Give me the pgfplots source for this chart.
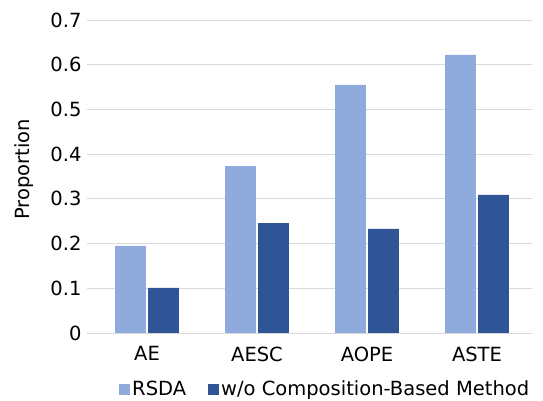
\documentclass[border=0pt]{standalone}
\usepackage{pgfplots}
\pgfplotsset{compat=1.18}
\usepackage{fontspec}
\setmainfont{DejaVu Sans}
\definecolor{rsda}{HTML}{8FAADC}
\definecolor{wo}{HTML}{2F5597}
\definecolor{gridc}{HTML}{D9D9D9}
\begin{document}
\begin{tikzpicture}
\path[use as bounding box] (-92pt,-68pt) rectangle (451pt,333pt);
\begin{axis}[
    at={(0,0)}, anchor=south west,
    scale only axis,
    width=440pt, height=313pt,
    xmin=-0.5, xmax=3.5,
    ymin=0, ymax=0.7,
    ytick={0,0.1,...,0.7},
    yticklabels={0,0.1,0.2,0.3,0.4,0.5,0.6,0.7},
    xtick={0,1,2,3},
    xticklabels={AE,AESC,AOPE,ASTE},
    ymajorgrids,
    grid style={gridc, line width=0.8pt},
    axis line style={draw=none},
    tick align=outside,
    major tick length=5pt,
    ytick style={gridc, line width=0.8pt},
    xtick style={draw=none},
    tick pos=left,
    tick label style={font=\fontsize{19.5}{23}\selectfont, black},
    yticklabel style={xshift=-2pt},
    xticklabel style={yshift=-5pt},
    /pgf/number format/assume math mode=true,
    ylabel={Proportion},
    ylabel style={font=\fontsize{19.5}{23}\selectfont, yshift=10pt, xshift=7pt},
    ybar, bar width=0.28,
    legend columns=2,
    legend style={draw=none, at={(0.53,-0.14)}, anchor=north,
        font=\fontsize{19.5}{23}\selectfont,
        /tikz/every odd column/.append style={column sep=0pt},
        /tikz/every even column/.append style={column sep=20pt}},
    legend image code/.code={\fill[#1] (-2pt,-5.5pt) rectangle (9pt,5.5pt);},
]
\addplot[fill=rsda, draw=none, bar shift=-0.15] coordinates {(0,0.195) (1,0.373) (2,0.555) (3,0.622)};
\addplot[fill=wo, draw=none, bar shift=0.15] coordinates {(0,0.101) (1,0.246) (2,0.233) (3,0.309)};
\legend{RSDA, w/o Composition-Based Method}
\end{axis}
\end{tikzpicture}
\end{document}
